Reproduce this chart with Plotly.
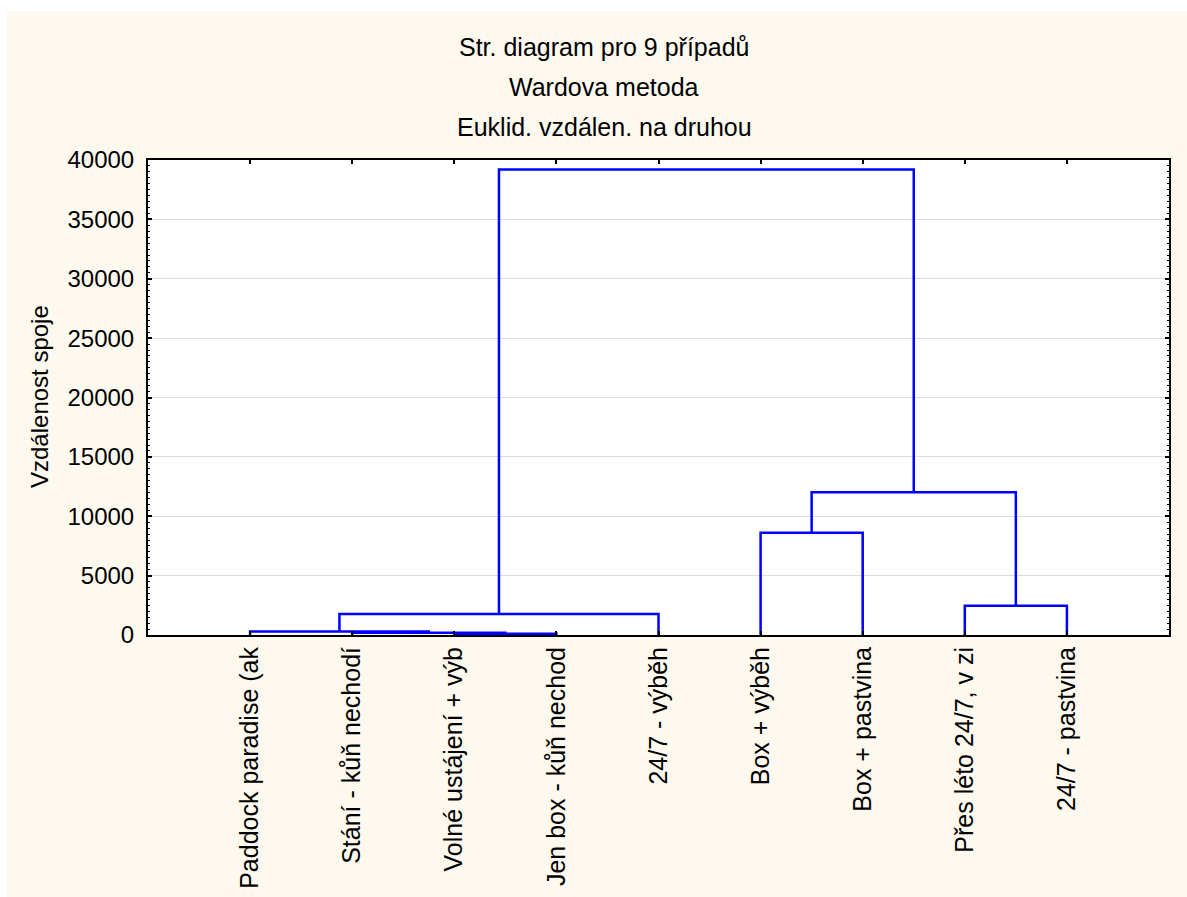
import plotly.graph_objects as go

# ---- data ----
leaves = ["Paddock paradise (ak", "Stání - kůň nechodí", "Volné ustájení + výb",
          "Jen box - kůň nechod", "24/7 - výběh", "Box + výběh", "Box + pastvina",
          "Přes léto 24/7, v zi", "24/7 - pastvina"]
# linkage: new cluster ids start at len(leaves)
merge_left = [2, 1, 0, 11, 5, 7, 13, 12]
merge_right = [3, 9, 10, 4, 6, 8, 14, 15]
merge_height = [100, 200, 300, 1770, 8620, 2470, 12030, 39190]
y_ticks = [0, 5000, 10000, 15000, 20000, 25000, 30000, 35000, 40000]

title_lines = ["Str. diagram pro 9 případů", "Wardova metoda", "Euklid. vzdálen. na druhou"]
y_title = "Vzdálenost spoje"

# ---- build dendrogram segments ----
n = len(leaves)
pos = {i: i + 1 for i in range(n)}
hgt = {i: 0 for i in range(n)}
xs, ys = [], []
for k, (a, b, h) in enumerate(zip(merge_left, merge_right, merge_height)):
    xa, xb = pos[a], pos[b]
    xs += [xa, xa, xb, xb, None]
    ys += [hgt[a], h, h, hgt[b], None]
    pos[n + k] = (xa + xb) / 2
    hgt[n + k] = h

# ---- geometry (pixels) ----
W, H = 1187, 897
L, R, T, B = 148, 18, 160, 262
pw, ph = W - L - R, H - T - B


def px_x(p):
    return (p - L) / pw


def px_y(p):
    return (H - B - p) / ph


FONT = "Arial, Liberation Sans, sans-serif"
fig = go.Figure()
fig.add_trace(go.Scatter(x=xs, y=ys, mode="lines",
                         line=dict(color="#0000ff", width=2.5),
                         hoverinfo="skip", showlegend=False))

fig.update_layout(
    width=W, height=H,
    margin=dict(l=L, r=R, t=T, b=B, autoexpand=False),
    paper_bgcolor="white",
    plot_bgcolor="white",
    font=dict(family=FONT, size=24, color="black"),
    showlegend=False,
)

fig.update_xaxes(
    range=[0, n + 1], tickmode="array", tickvals=list(range(1, n + 1)), ticktext=leaves,
    tickangle=-90, ticks="inside", ticklen=4, tickwidth=2, tickcolor="black",
    showline=True, linecolor="black", linewidth=2, mirror="ticks",
    showgrid=False, zeroline=False, automargin=False,
    tickfont=dict(family=FONT, size=25, color="black"),
)
fig.update_yaxes(
    range=[0, 40000], tickmode="array", tickvals=y_ticks, ticktext=[str(v) for v in y_ticks],
    ticks="inside", ticklen=4, tickwidth=2, tickcolor="black",
    minor=dict(ticks="inside", ticklen=2, tickwidth=1, dtick=500, tickcolor="black", showgrid=False),
    showline=True, linecolor="black", linewidth=2, mirror="ticks",
    showgrid=True, gridcolor="#dcdcdc", gridwidth=1, zeroline=False, automargin=False,
    ticklabelstandoff=7,
    tickfont=dict(family=FONT, size=24, color="black"),
)

# background: cream panel with white margin, white plot area
fig.add_shape(type="rect", xref="paper", yref="paper", layer="below",
              x0=px_x(7), x1=px_x(W + 5), y0=px_y(H + 5), y1=px_y(11),
              fillcolor="#fef9ef", line=dict(width=0))
fig.add_shape(type="rect", xref="paper", yref="paper", layer="below",
              x0=0, x1=1, y0=0, y1=1, fillcolor="white", line=dict(width=0))

for i, (txt, yy) in enumerate(zip(title_lines, [47, 87, 127])):
    fig.add_annotation(text=txt, xref="paper", yref="paper", x=px_x(604), y=px_y(yy),
                       xanchor="center", yanchor="middle", showarrow=False,
                       font=dict(family=FONT, size=25, color="black"))

fig.add_annotation(text=y_title, xref="paper", yref="paper", x=px_x(39), y=px_y(397),
                   xanchor="center", yanchor="middle", textangle=-90, showarrow=False,
                   font=dict(family=FONT, size=24, color="black"))

fig.write_html("out.html", config={"displayModeBar": False},
               post_script="document.body.style.margin='0';document.body.style.overflow='hidden';")
